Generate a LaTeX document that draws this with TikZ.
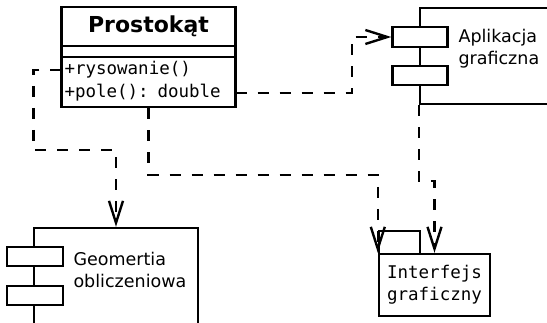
\documentclass[tikz,border=0pt]{standalone}
\usepackage{fontspec}
\setmainfont{DejaVu Sans}
\setmonofont{DejaVu Sans Mono}
\newfontfamily\titlefont{DejaVu Sans Bold}
\usetikzlibrary{positioning,calc,arrows.meta}
\tikzset{font=\fontsize{17.5}{22}\selectfont}
\tikzset{
	box/.style={draw, line width=2.4pt, fill=white, inner sep=0pt},
	port/.style={box, minimum width=55pt, minimum height=20pt},
	mono/.style={font=\fontsize{17.5}{22}\selectfont\ttfamily},
	head/.style={font=\titlefont\fontsize{22}{26}\selectfont},
	oper/.style={mono, minimum width=174pt, text width=168pt, inner sep=3pt, align=left},
	dep/.style={line width=2.4pt, dash pattern=on 11pt off 11pt, -{Straight Barb[length=22pt,width=14pt]}}
}

\begin{document}
\begin{tikzpicture}[x=1pt, y=-1pt]
	\useasboundingbox (0,0) rectangle (547,323);
	\clip (0,0) rectangle (547,323);
	% klasa
	\node[box, head, minimum width=174pt, minimum height=39pt] (title) at (148.5,26.5) {Prostokąt};
	\node[box, minimum width=174pt, minimum height=11pt] (attr) at (148.5,51.5) {};
	\node[box, minimum width=174pt, minimum height=50pt] (ops) at (148.5,82) {};
	\node[oper] (rys) at (148.5,70) {+rysowanie()};
	\node[oper] (pole) at (148.5,93) {+pole(): double};

	% komponenty
	\node[box, minimum width=180pt, minimum height=96pt] (apl) at (510,56) {};
	\node[port] (apl1) at (420,37) {};
	\node[port, minimum height=19pt] (apl2) at (420,75.5) {};
	\node[anchor=west, align=left] (apltxt) at (455,49) {Aplikacja\\graficzna};

	\node[box, minimum width=164pt, minimum height=140pt] (geo) at (116,298) {};
	\node[port, minimum width=56pt, minimum height=19pt] (geo1) at (35,256.5) {};
	\node[port, minimum width=56pt, minimum height=19pt] (geo2) at (35,295.5) {};
	\node[anchor=west, align=left] (geotxt) at (70,270) {Geomertia\\obliczeniowa};

	% pakiet
	\node[box, minimum width=41pt, minimum height=23pt] (itab) at (399.5,242.5) {};
	\node[box, mono, minimum width=111pt, minimum height=62pt, align=center] (intf) at (434.5,285) {Interfejs\\graficzny};

	\draw[dep] (rys.west) -- ++(-28,0) -- ++(0,80) -| (geo.north);
	\draw[dep] (pole.east) -- ++(116,0) |- (apl1.west);
	\draw[dep] (ops.south) -- ++(0,67) -| (intf.north west);
	\draw[dep] (apl.south west) -- ++(0,76) -| (intf.north);
\end{tikzpicture}
\end{document}
